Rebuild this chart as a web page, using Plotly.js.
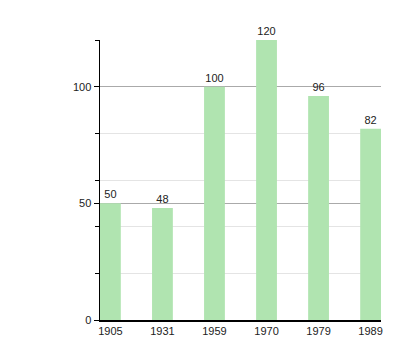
<!DOCTYPE html>
<html><head><meta charset="utf-8">
<script src="https://cdn.plot.ly/plotly-3.0.1.min.js"></script>
<style>html,body{margin:0;padding:0;background:#fff}#chart{width:420px;height:360px}</style>
</head><body><div id="chart"></div>
<script>
const years = ['1905','1931','1959','1970','1979','1989'];
const values = [50, 48, 100, 120, 96, 82];
const yTicks = [0, 50, 100];
const yMinorTicks = [20, 40, 60, 80, 120];

const idx = years.map((_, i) => i);
const trace = {
  type: 'bar', x: idx, y: values, width: 0.4,
  marker: {color: 'rgb(176,228,176)'},
  text: values.map(String), textposition: 'outside', cliponaxis: false,
  textfont: {family: 'Liberation Sans, Arial, sans-serif', size: 11, color: '#222'},
  hoverinfo: 'none'
};
const layout = {
  width: 420, height: 360,
  margin: {l: 100, r: 39, t: 40, b: 40},
  paper_bgcolor: '#fff', plot_bgcolor: '#fff',
  showlegend: false,
  font: {family: 'Liberation Sans, Arial, sans-serif', size: 11, color: '#222'},
  xaxis: {
    range: [-0.2, 5.2], tickvals: idx, ticktext: years,
    showgrid: false, zeroline: false, showline: true, linecolor: '#000', linewidth: 1.5,
    ticks: '', fixedrange: true
  },
  yaxis: {
    range: [0, 120], tickvals: yTicks, ticks: 'outside', ticklen: 5, tickcolor: '#000',
    showline: true, linecolor: '#000', linewidth: 1.5,
    showgrid: true, gridcolor: '#aaaaaa', gridwidth: 1, zeroline: false,
    minor: {tickvals: yMinorTicks, ticks: 'outside', ticklen: 4, tickcolor: '#000',
            showgrid: true, gridcolor: '#e4e4e4', gridwidth: 1},
    fixedrange: true
  },
  bargap: 0.6
};
Plotly.newPlot('chart', [trace], layout, {staticPlot: true, displayModeBar: false});
</script></body></html>
